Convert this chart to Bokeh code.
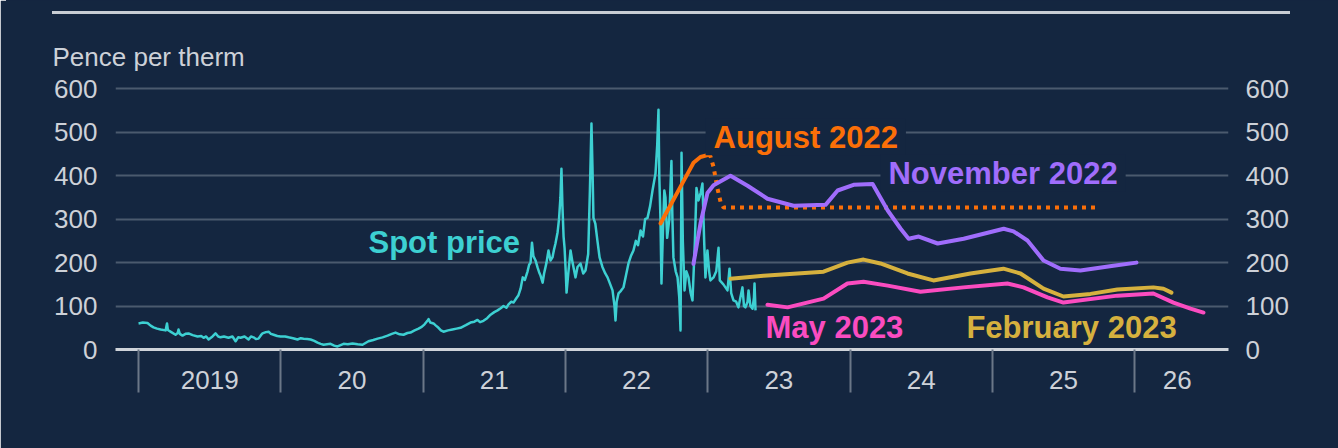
from bokeh.plotting import figure
from bokeh.models import (Range1d, LinearAxis, FixedTicker, Label, GlobalInlineStyleSheet)
from bokeh.embed import file_html
from bokeh.resources import INLINE

# ---------------- data ----------------
year_bounds = [2019, 2020, 2021, 2022, 2023, 2024, 2025, 2026]
year_label_pos = [2019.5, 2020.5, 2021.5, 2022.5, 2023.5, 2024.5, 2025.5, 2026.3]
year_labels = ["2019", "20", "21", "22", "23", "24", "25", "26"]
y_ticks = [0, 100, 200, 300, 400, 500, 600]

spot_year = [
    2019.000, 2019.030, 2019.063, 2019.085, 2019.105, 2019.130, 2019.155, 2019.190, 2019.200, 2019.206,
    2019.230, 2019.260, 2019.275, 2019.281, 2019.290, 2019.309, 2019.330, 2019.351, 2019.380, 2019.415,
    2019.440, 2019.457, 2019.475, 2019.492, 2019.520, 2019.541, 2019.560, 2019.576, 2019.600, 2019.632,
    2019.660, 2019.682, 2019.700, 2019.717, 2019.745, 2019.773, 2019.790, 2019.808, 2019.825, 2019.843,
    2019.860, 2019.871, 2019.895, 2019.914, 2019.930, 2019.949, 2019.975, 2019.998, 2020.030, 2020.054,
    2020.085, 2020.117, 2020.140, 2020.160, 2020.185, 2020.209, 2020.235, 2020.258, 2020.280, 2020.300,
    2020.325, 2020.349, 2020.375, 2020.398, 2020.420, 2020.441, 2020.470, 2020.504, 2020.540, 2020.574,
    2020.595, 2020.616, 2020.650, 2020.680, 2020.715, 2020.750, 2020.780, 2020.806, 2020.835, 2020.862,
    2020.890, 2020.911, 2020.940, 2020.968, 2020.990, 2021.010, 2021.030, 2021.038, 2021.050, 2021.073,
    2021.090, 2021.108, 2021.125, 2021.143, 2021.175, 2021.206, 2021.235, 2021.263, 2021.300, 2021.333,
    2021.360, 2021.382, 2021.400, 2021.424, 2021.450, 2021.474, 2021.500, 2021.523, 2021.545, 2021.565,
    2021.585, 2021.600, 2021.620, 2021.635, 2021.655, 2021.670, 2021.685, 2021.700, 2021.715, 2021.734,
    2021.745, 2021.755, 2021.765, 2021.775, 2021.790, 2021.804, 2021.815, 2021.825, 2021.840, 2021.850,
    2021.867, 2021.881, 2021.895, 2021.909, 2021.920, 2021.930, 2021.945, 2021.955, 2021.965, 2021.972,
    2021.979, 2021.987, 2021.994, 2022.002, 2022.008, 2022.020, 2022.036, 2022.050, 2022.071, 2022.085,
    2022.106, 2022.125, 2022.141, 2022.160, 2022.172, 2022.183, 2022.190, 2022.197, 2022.210, 2022.225,
    2022.240, 2022.260, 2022.280, 2022.296, 2022.315, 2022.331, 2022.345, 2022.352, 2022.360, 2022.373,
    2022.390, 2022.408, 2022.425, 2022.443, 2022.460, 2022.478, 2022.495, 2022.510, 2022.528, 2022.545,
    2022.560, 2022.577, 2022.595, 2022.612, 2022.625, 2022.633, 2022.645, 2022.654, 2022.660, 2022.668,
    2022.675, 2022.685, 2022.695, 2022.703, 2022.715, 2022.730, 2022.745, 2022.752, 2022.759, 2022.775,
    2022.788, 2022.800, 2022.809, 2022.812, 2022.816, 2022.825, 2022.837, 2022.850, 2022.865, 2022.880,
    2022.893, 2022.910, 2022.921, 2022.935, 2022.950, 2022.963, 2022.975, 2022.984, 2022.998, 2023.010,
    2023.019, 2023.041, 2023.060, 2023.076, 2023.085, 2023.110, 2023.139, 2023.153, 2023.165, 2023.181,
    2023.200, 2023.216, 2023.230, 2023.244, 2023.255, 2023.265, 2023.280, 2023.287, 2023.300, 2023.315,
    2023.325, 2023.329, 2023.336,
]
spot_pence = [
    60, 62, 61, 55, 51, 48, 46, 44, 60, 45,
    40, 34, 38, 46, 36, 32, 36, 37, 33, 30,
    31, 27, 30, 23, 30, 37, 30, 28, 30, 27,
    30, 19, 28, 27, 30, 23, 30, 28, 24, 25,
    33, 37, 40, 41, 36, 34, 31, 30, 30, 28,
    26, 23, 26, 25, 24, 23, 20, 16, 13, 11,
    12, 13, 9, 7, 10, 13, 12, 14, 12, 11,
    15, 19, 22, 25, 28, 32, 36, 39, 35, 34,
    38, 39, 44, 48, 52, 58, 66, 70, 62, 60,
    55, 50, 44, 41, 44, 46, 48, 50, 56, 62,
    64, 68, 63, 66, 72, 80, 86, 90, 95, 100,
    96, 104, 110, 108, 118, 125, 140, 166, 160, 180,
    195, 200, 246, 215, 205, 189, 178, 170, 154, 175,
    200, 228, 205, 212, 230, 244, 270, 300, 350, 416,
    330, 260, 234, 180, 131, 175, 228, 200, 166, 190,
    198, 175, 182, 220, 366, 520, 420, 303, 290, 250,
    212, 190, 175, 166, 150, 136, 100, 67, 110, 129,
    135, 143, 170, 198, 215, 228, 250, 240, 274, 260,
    300, 303, 330, 366, 390, 405, 470, 552, 395, 300,
    152, 270, 366, 350, 257, 300, 434, 300, 212, 180,
    166, 120, 44, 200, 453, 250, 136, 180, 166, 130,
    113, 250, 372, 343, 360, 382, 250, 166, 228, 180,
    159, 166, 180, 234, 159, 150, 136, 186, 130, 113,
    110, 97, 120, 143, 100, 97, 110, 136, 100, 94,
    120, 152, 90,
]

aug22_year = [2022.668, 2022.738, 2022.809, 2022.879, 2022.900, 2022.949, 2023.005]
aug22_pence = [290, 332, 375, 417, 430, 443, 448]
aug22_flat_year = [2023.005, 2023.019, 2023.041, 2023.069, 2023.090, 2023.111, 2025.746]
aug22_flat_pence = [448, 445, 420, 370, 340, 327, 327]

nov22_year = [2022.900, 2022.949, 2022.998, 2023.041, 2023.160, 2023.280, 2023.420, 2023.603,
              2023.828, 2023.913, 2024.025, 2024.159, 2024.265, 2024.356, 2024.412, 2024.483,
              2024.616, 2024.799, 2025.080, 2025.149, 2025.247, 2025.360, 2025.479, 2025.619,
              2025.851, 2026.013]
nov22_pence = [197, 290, 360, 378, 400, 377, 347, 331,
               333, 366, 379, 381, 320, 278, 255, 260,
               244, 255, 278, 272, 251, 205, 186, 182,
               193, 200]

feb23_year = [2023.160, 2023.392, 2023.814, 2023.982, 2024.095, 2024.214, 2024.404, 2024.586,
              2024.846, 2025.078, 2025.198, 2025.360, 2025.500, 2025.690, 2025.879, 2026.132,
              2026.203, 2026.259]
feb23_pence = [163, 170, 179, 200, 207, 198, 175, 159,
               175, 186, 175, 140, 122, 128, 138, 143,
               140, 131]

may23_year = [2023.420, 2023.561, 2023.814, 2023.982, 2024.095, 2024.265, 2024.495, 2024.797,
              2025.106, 2025.219, 2025.388, 2025.500, 2025.879, 2026.132, 2026.273, 2026.393,
              2026.484]
may23_pence = [103, 97, 117, 152, 156, 147, 133, 143,
               152, 143, 120, 108, 124, 129, 108, 94,
               85]

# ---------------- style ----------------
BG = "#142640"
GRID = "#4b5a6e"
TXT = "#cdd1d8"
AXIS = "#cfd3d9"
TICK = "#6b7787"
RULE = "#c8cdd4"
CYAN = "#3dd0d2"
ORANGE = "#fb6f08"
PURPLE = "#a06dfc"
PINK = "#fb4cc0"
GOLD = "#d6b13e"
FONT = "Liberation Sans"

p = figure(width=1338, height=448,
           x_range=Range1d(2018.838, 2026.660), y_range=Range1d(0, 610),
           output_backend="svg", toolbar_location=None,
           min_border_left=115, min_border_right=110, min_border_top=84, min_border_bottom=99,
           background_fill_color=BG, border_fill_color=BG, outline_line_color=None)

css = ("html,body{margin:0;padding:0;background:linear-gradient(to right,#ffffff 6px,%s 6px);}"
       "body::after{content:'';position:fixed;left:52px;top:11px;width:1238px;height:3px;"
       "background:%s;z-index:50;pointer-events:none;}") % (BG, RULE)
p.stylesheets = [GlobalInlineStyleSheet(css=css)]

# title used as the unit caption
p.title.text = "Pence per therm"
p.title.align = "left"
p.title.offset = -63
p.title.standoff = 26
p.title.text_font = FONT
p.title.text_font_style = "normal"
p.title.text_font_size = "26px"
p.title.text_color = TXT

# x axis
xax = p.xaxis[0]
xax.ticker = FixedTicker(ticks=year_label_pos, minor_ticks=year_bounds)
xax.major_label_overrides = {pos: lab for pos, lab in zip(year_label_pos, year_labels)}
xax.axis_line_color = AXIS
xax.axis_line_width = 3
xax.major_tick_line_color = None
xax.major_tick_out = 0
xax.major_tick_in = 0
xax.minor_tick_line_color = TICK
xax.minor_tick_line_width = 2
xax.minor_tick_out = 43
xax.minor_tick_in = 0
xax.major_label_standoff = -22
xax.major_label_text_font = FONT
xax.major_label_text_font_size = "26px"
xax.major_label_text_color = TXT

# y axes
def style_y(ax, standoff):
    ax.ticker = FixedTicker(ticks=y_ticks)
    ax.axis_line_color = None
    ax.major_tick_line_color = None
    ax.minor_tick_line_color = None
    ax.major_tick_out = 0
    ax.major_tick_in = 0
    ax.major_label_standoff = standoff
    ax.major_label_text_font = FONT
    ax.major_label_text_font_size = "26px"
    ax.major_label_text_color = TXT

style_y(p.yaxis[0], 18)
rax = LinearAxis()
style_y(rax, 17)
p.add_layout(rax, "right")

p.xgrid.visible = False
p.ygrid.ticker = FixedTicker(ticks=y_ticks[1:])
p.ygrid.grid_line_color = GRID
p.ygrid.grid_line_width = 2

# lines
p.line(spot_year, spot_pence, line_color=CYAN, line_width=2.5, line_join="round")
p.line(aug22_year, aug22_pence, line_color=ORANGE, line_width=4, line_join="round", line_cap="round")
p.line(aug22_flat_year, aug22_flat_pence, line_color=ORANGE, line_width=4, line_dash="4 5")
p.line(nov22_year, nov22_pence, line_color=PURPLE, line_width=4, line_join="round", line_cap="round")
p.line(may23_year, may23_pence, line_color=PINK, line_width=4, line_join="round", line_cap="round")
p.line(feb23_year, feb23_pence, line_color=GOLD, line_width=4, line_join="round", line_cap="round")

# labels
def lab(x, y, text, color, bg=False):
    kw = dict(x=x, y=y, text=text, text_font=FONT, text_font_style="bold",
              text_font_size="31px", text_color=color, text_baseline="alphabetic")
    if bg:
        kw.update(background_fill_color=BG, padding=dict(left=8, right=8, top=2, bottom=0))
    p.add_layout(Label(**kw))

lab(2020.616, 246, "Spot price", CYAN)
lab(2022.985, 490, "August 2022", ORANGE, bg=True)
lab(2024.214, 407, "November 2022", PURPLE, bg=True)
lab(2023.406, 50, "May 2023", PINK)
lab(2024.818, 50, "February 2023", GOLD)

open("out.html", "w").write(file_html(p, INLINE))
